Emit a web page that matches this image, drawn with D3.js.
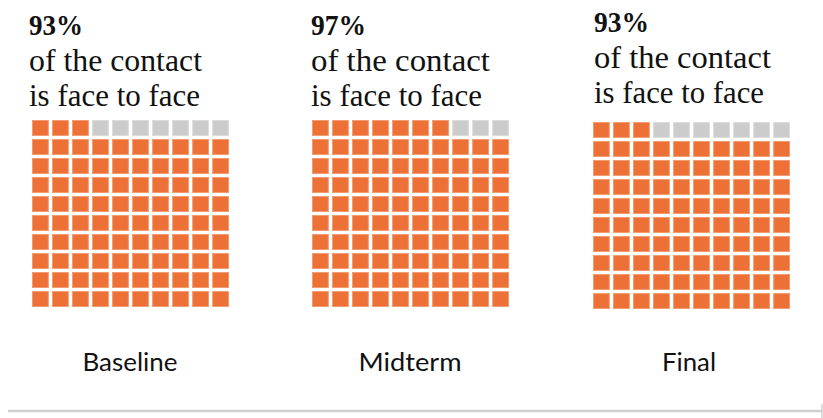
<!DOCTYPE html>
<html>
<head>
<meta charset="utf-8">
<script src="https://cdn.jsdelivr.net/npm/d3@7"></script>
<style>
  html, body { margin: 0; padding: 0; background: #fff; }
  svg { display: block; }
</style>
</head>
<body>
<svg id="chart" width="823" height="418"></svg>
<script>
// Survey rounds and the share of contact that happened face to face
const stages = ["Baseline", "Midterm", "Final"];
const faceToFacePct = [93, 97, 93];
const captionLines = ["of the contact", "is face to face"];

// Layout of each waffle panel (left edge, top edge of the grid, text baseline offset)
const panelX = [32, 312, 593];
const panelY = [120, 120, 122];
const textX = [29, 311, 594];
const textTop = [35, 35, 32];
const headWidths = [54, 55, 55];
const captionWidths = [[173, 171], [179, 171], [177, 170]];
const labelCenters = [130, 410, 689];
const labelWidths = [95, 103, 54];

const gridW = 197, gridH = 187;
const ORANGE = "#ED7137", GRAY = "#CCCCCC";

const svg = d3.select("#chart");

const col = d3.scaleBand().domain(d3.range(10)).range([0, gridW]).paddingInner(0.16);
const row = d3.scaleBand().domain(d3.range(10)).range([0, gridH]).paddingInner(0.16);

stages.forEach((stage, s) => {
  const pct = faceToFacePct[s];
  const g = svg.append("g").attr("transform", `translate(${panelX[s]},${panelY[s]})`);

  // 100 cells, filled from the bottom-left, row by row; the remainder sits top-right
  const cells = d3.range(100).map(i => ({
    c: i % 10,
    r: 9 - Math.floor(i / 10),
    on: i < pct
  }));

  g.selectAll("rect")
    .data(cells)
    .join("rect")
    .attr("x", d => col(d.c) + 0.5)
    .attr("y", d => row(d.r) + 0.5)
    .attr("width", col.bandwidth() - 1)
    .attr("height", row.bandwidth() - 1)
    .attr("fill", d => d.on ? ORANGE : GRAY)
    .attr("stroke", d => d.on ? "#F39B70" : "#DCDCDC")
    .attr("stroke-width", 1);

  // Headline figure and caption
  const t = svg.append("g")
    .attr("font-family", "'Liberation Serif', 'Times New Roman', serif")
    .attr("fill", "#111");

  t.append("text")
    .attr("x", textX[s])
    .attr("y", textTop[s])
    .attr("font-size", 29)
    .attr("font-weight", "bold")
    .attr("textLength", headWidths[s])
    .attr("lengthAdjust", "spacingAndGlyphs")
    .text(pct + "%");

  captionLines.forEach((line, k) => {
    t.append("text")
      .attr("x", textX[s])
      .attr("y", textTop[s] + 35.5 * (k + 1))
      .attr("font-size", 30.5)
      .attr("textLength", captionWidths[s][k])
      .attr("lengthAdjust", "spacingAndGlyphs")
      .text(line);
  });

  // Stage label under the grid
  svg.append("text")
    .attr("x", labelCenters[s])
    .attr("y", 371)
    .attr("text-anchor", "middle")
    .attr("font-family", "Lato, 'Open Sans', sans-serif")
    .attr("font-size", 25)
    .attr("fill", "#111")
    .attr("textLength", labelWidths[s])
    .attr("lengthAdjust", "spacingAndGlyphs")
    .text(stage);
});

// Bottom rule with an end tick
svg.append("line")
  .attr("x1", 8).attr("x2", 822)
  .attr("y1", 411).attr("y2", 411)
  .attr("stroke", "#D0D0D0").attr("stroke-width", 2.5);
svg.append("line")
  .attr("x1", 822).attr("x2", 822)
  .attr("y1", 404).attr("y2", 418)
  .attr("stroke", "#D0D0D0").attr("stroke-width", 1.5);
</script>
</body>
</html>
